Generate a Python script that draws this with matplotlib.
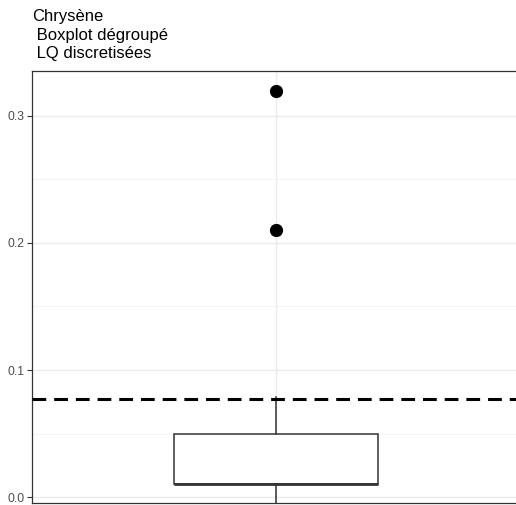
import matplotlib
matplotlib.use("Agg")
import matplotlib.pyplot as plt

plt.rcParams["font.family"] = ["Liberation Sans", "DejaVu Sans"]

# boxplot statistics
q1 = 0.01
median = 0.01
q3 = 0.05
whisker_low = -0.01
whisker_high = 0.079
outliers = [0.21, 0.32]
lq_line = 0.077

y_ticks = [0.0, 0.1, 0.2, 0.3]
y_tick_labels = ["0.0", "0.1", "0.2", "0.3"]
y_minor = [0.05, 0.15, 0.25]
title = "Chrysène\n Boxplot dégroupé\n LQ discretisées"

W, H = 516, 505
fig = plt.figure(figsize=(W / 100, H / 100), dpi=100)
ax = fig.add_axes([32 / W, (H - 503) / H, (520 - 32) / W, (503 - 71) / H])

for y in y_minor:
    ax.axhline(y, color="#F2F2F2", lw=0.6, zorder=0)
for y in y_ticks:
    ax.axhline(y, color="#EBEBEB", lw=1.0, zorder=0)
ax.axvline(1, color="#EBEBEB", lw=1.0, zorder=0)

ax.bxp(
    [{"med": median, "q1": q1, "q3": q3, "whislo": whisker_low,
      "whishi": whisker_high, "fliers": outliers}],
    positions=[1], widths=0.5, showcaps=False, patch_artist=True,
    boxprops=dict(facecolor="white", edgecolor="#333333", lw=1.1),
    whiskerprops=dict(color="#333333", lw=1.1),
    medianprops=dict(color="#333333", lw=2.0),
    flierprops=dict(marker="o", markerfacecolor="black", markeredgecolor="black",
                    markersize=8.5),
)

ax.axhline(lq_line, color="black", lw=2.2, dashes=(4.5, 2.6), zorder=3)

ax.set_xlim(0.4, 1.6)
ax.set_ylim(-0.0047, 0.3354)
ax.set_xticks([])
ax.set_yticks(y_ticks)
ax.set_yticklabels(y_tick_labels)
ax.tick_params(axis="y", length=3.5, width=0.8, color="#333333",
               labelsize=8.8, labelcolor="#4D4D4D", pad=2)
for s in ax.spines.values():
    s.set_color("#333333")
    s.set_linewidth(0.9)

fig.text(32 / W, 1 - 9 / H, title, ha="left", va="top", fontsize=12,
         linespacing=1.3)

fig.savefig("out.png", dpi=100)
